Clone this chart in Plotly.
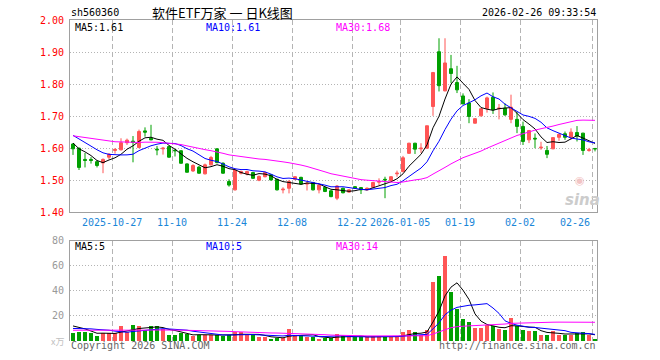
import plotly.graph_objects as go
import pandas as pd

# ---------------- data ----------------
open_ = [1.613, 1.600, 1.565, 1.565, 1.558, 1.554, 1.572, 1.593, 1.595, 1.617,
         1.622, 1.602, 1.654, 1.631, 1.597, 1.598, 1.605, 1.594, 1.592, 1.551,
         1.529, 1.541, 1.520, 1.548, 1.598, 1.553, 1.496, 1.470, 1.522, 1.520,
         1.524, 1.500, 1.511, 1.517, 1.503, 1.470, 1.475, 1.503, 1.509, 1.488,
         1.493, 1.470, 1.478, 1.467, 1.444, 1.475, 1.463, 1.480, 1.477, 1.470,
         1.478, 1.494, 1.503, 1.499, 1.520, 1.527, 1.584, 1.6155, 1.598, 1.600,
         1.730, 1.901, 1.779, 1.848, 1.805, 1.763, 1.741, 1.678, 1.701, 1.724,
         1.759, 1.723, 1.725, 1.690, 1.690, 1.668, 1.626, 1.631, 1.601, 1.593,
         1.598, 1.634, 1.645, 1.634, 1.649, 1.647, 1.593, 1.599]
high = [1.616, 1.602, 1.585, 1.572, 1.562, 1.568, 1.585, 1.600, 1.631, 1.630,
        1.638, 1.658, 1.665, 1.673, 1.607, 1.604, 1.607, 1.596, 1.594, 1.553,
        1.550, 1.545, 1.552, 1.576, 1.600, 1.556, 1.503, 1.535, 1.530, 1.530,
        1.526, 1.515, 1.527, 1.519, 1.505, 1.478, 1.501, 1.513, 1.511, 1.496,
        1.495, 1.488, 1.480, 1.469, 1.485, 1.477, 1.472, 1.482, 1.479, 1.478,
        1.495, 1.506, 1.511, 1.513, 1.530, 1.576, 1.617, 1.617, 1.6155, 1.670,
        1.838, 1.943, 1.943, 1.891, 1.857, 1.771, 1.753, 1.694, 1.725, 1.761,
        1.774, 1.738, 1.740, 1.767, 1.714, 1.683, 1.657, 1.646, 1.620, 1.607,
        1.633, 1.646, 1.652, 1.662, 1.669, 1.648, 1.601, 1.601]
low = [1.579, 1.532, 1.540, 1.552, 1.540, 1.522, 1.565, 1.583, 1.593, 1.610,
       1.556, 1.600, 1.636, 1.625, 1.578, 1.580, 1.570, 1.574, 1.552, 1.524,
       1.526, 1.520, 1.518, 1.546, 1.553, 1.520, 1.480, 1.468, 1.518, 1.515,
       1.504, 1.497, 1.509, 1.499, 1.468, 1.459, 1.459, 1.500, 1.486, 1.468,
       1.468, 1.459, 1.463, 1.447, 1.438, 1.459, 1.461, 1.473, 1.457, 1.468,
       1.476, 1.485, 1.444, 1.497, 1.511, 1.525, 1.582, 1.582, 1.585, 1.598,
       1.701, 1.777, 1.777, 1.803, 1.772, 1.738, 1.678, 1.677, 1.699, 1.711,
       1.707, 1.690, 1.701, 1.678, 1.647, 1.610, 1.616, 1.600, 1.595, 1.569,
       1.597, 1.623, 1.626, 1.626, 1.621, 1.579, 1.589, 1.590]
close = [1.598, 1.540, 1.562, 1.562, 1.546, 1.565, 1.581, 1.596, 1.617, 1.625,
         1.618, 1.652, 1.650, 1.626, 1.595, 1.600, 1.572, 1.592, 1.553, 1.525,
         1.546, 1.522, 1.548, 1.571, 1.555, 1.522, 1.485, 1.532, 1.527, 1.527,
         1.506, 1.512, 1.524, 1.501, 1.470, 1.472, 1.496, 1.511, 1.488, 1.490,
         1.470, 1.485, 1.465, 1.449, 1.482, 1.461, 1.470, 1.475, 1.470, 1.475,
         1.493, 1.496, 1.501, 1.511, 1.522, 1.570, 1.6155, 1.597, 1.600, 1.670,
         1.836, 1.795, 1.866, 1.833, 1.782, 1.738, 1.699, 1.692, 1.723, 1.757,
         1.720, 1.725, 1.704, 1.728, 1.668, 1.621, 1.655, 1.629, 1.603, 1.581,
         1.633, 1.643, 1.634, 1.650, 1.638, 1.593, 1.595, 1.598]
volume = [6.4, 7.2, 7.2, 6.4, 3.7, 6.7, 6.7, 6.7, 11.7, 7.2,
          12.5, 11.7, 8.6, 11.7, 11.7, 9.8, 4.4, 4.4, 6.4, 5.3,
          4.0, 5.1, 5.1, 5.1, 4.4, 3.7, 4.4, 7.2, 7.2, 4.4,
          4.4, 3.1, 3.1, 1.8, 2.3, 2.3, 9.8, 4.4, 5.1, 3.1,
          3.1, 1.8, 2.3, 2.3, 5.9, 3.7, 3.1, 3.1, 3.7, 3.1,
          3.7, 3.7, 3.1, 3.1, 3.7, 7.2, 8.6, 7.2, 4.4, 8.6,
          47.0, 52.0, 68.0, 39.2, 25.9, 17.4, 15.2, 10.4, 10.4, 12.5,
          12.0, 9.4, 8.6, 18.4, 12.0, 8.6, 7.8, 7.8, 5.0, 5.0,
          7.8, 5.0, 5.0, 5.0, 6.5, 7.0, 5.0, 1.3]
# closes / volumes of the 29 sessions before the window (only seen through the MA lines)
prev_close = [1.62, 1.63, 1.64, 1.66, 1.67, 1.65, 1.64, 1.63, 1.65, 1.66, 1.64, 1.62,
              1.61, 1.62, 1.64, 1.63, 1.62, 1.64, 1.65, 1.64,
              1.66, 1.67, 1.67, 1.66, 1.66,
              1.63, 1.61, 1.62, 1.623]
prev_volume = [8, 7, 9, 8, 7, 8, 9, 7, 8, 8, 7, 9, 8, 8, 7, 8, 9, 8, 7, 8,
               7, 9, 8, 8, 8, 12, 14, 15, 12.6]

tick_idx = [7, 17, 27, 37, 47, 55, 65, 75, 87]
tick_labels = ["2025-10-27", "11-10", "11-24", "12-08", "12-22",
               "2026-01-05", "01-19", "02-02", "02-26"]
price_ticks = [1.40, 1.50, 1.60, 1.70, 1.80, 1.90, 2.00]
vol_ticks = [20, 40, 60, 80]

stock_code = "sh560360"
title_text = "软件ETF万家 一 日K线图"
stamp_text = "2026-02-26 09:33:54"
price_ma_labels = ["MA5:1.61", "MA10:1.61", "MA30:1.68"]
vol_ma_labels = ["MA5:5", "MA10:5", "MA30:14"]

n = len(close)
assert len(open_) == n and len(high) == n and len(low) == n and len(volume) == n

x = list(range(n))
pc = pd.Series(prev_close + close)
pv = pd.Series(prev_volume + volume)
k = len(prev_close)
ma_close = {w: pc.rolling(w).mean().iloc[k:].tolist() for w in (5, 10, 30)}
ma_vol = {w: pv.rolling(w).mean().iloc[k:].tolist() for w in (5, 10, 30)}

RED = "#ff5555"
GREEN = "#00a000"
MA_COL = {5: "#000000", 10: "#0000ff", 30: "#ff00ff"}
FRAME = "#a0a0a0"
GRID = "#b4b4b4"
MONO = "DejaVu Sans Mono"

# ---------------- layout geometry ----------------
W, H = 660, 360
L, R, T, B = 70, 63, 20, 19
PW, PH = W - L - R, H - T - B


def px(v):
    return (v - L) / PW


def py(v):
    return (H - B - v) / PH


fig = go.Figure()

fig.add_trace(go.Candlestick(
    x=x, open=open_, high=high, low=low, close=close,
    increasing=dict(line=dict(color=RED, width=1), fillcolor=RED),
    decreasing=dict(line=dict(color=GREEN, width=1), fillcolor=GREEN),
    whiskerwidth=0, hoverinfo="skip", xaxis="x", yaxis="y"))

for w in (5, 10, 30):
    fig.add_trace(go.Scatter(x=x, y=ma_close[w], mode="lines",
                             line=dict(color=MA_COL[w], width=1),
                             hoverinfo="skip", xaxis="x", yaxis="y"))

bar_cols = [RED if c >= o else GREEN for o, c in zip(open_, close)]
fig.add_trace(go.Bar(x=x, y=volume, marker=dict(color=bar_cols, line=dict(width=0)),
                     width=0.78, hoverinfo="skip", xaxis="x2", yaxis="y2"))
for w in (5, 10, 30):
    fig.add_trace(go.Scatter(x=x, y=ma_vol[w], mode="lines",
                             line=dict(color=MA_COL[w], width=1),
                             hoverinfo="skip", xaxis="x2", yaxis="y2"))

xr = [-0.5, -0.5 + PW / 6.0]
grid_x = [t - 0.5 for t in tick_idx]

common_x = dict(range=xr, tickmode="array", tickvals=grid_x, showticklabels=False,
                ticks="", showgrid=True, gridcolor=GRID, griddash="5px,3px",
                gridwidth=1, zeroline=False, fixedrange=True)

fig.update_layout(
    width=W, height=H,
    margin=dict(l=L, r=R, t=T, b=B, pad=0),
    paper_bgcolor="white", plot_bgcolor="white",
    showlegend=False, bargap=0,
    xaxis=dict(**common_x, anchor="y", showline=True, mirror=True,
               linecolor=FRAME, linewidth=1, rangeslider=dict(visible=False)),
    yaxis=dict(domain=[py(212.3), 1.0], range=[1.40, 2.00], tickmode="array",
               tickvals=price_ticks, ticktext=[f"{v:.2f}" for v in price_ticks],
               tickfont=dict(family=MONO, size=10, color="#ff0000"),
               ticks="", ticklabelstandoff=3,
               showgrid=True, gridcolor=GRID, griddash="1px,2px", gridwidth=1,
               zeroline=False, showline=True, mirror=True, linecolor=FRAME,
               linewidth=1, fixedrange=True),
    xaxis2=dict(**common_x, anchor="y2", side="top", showline=True,
                linecolor=FRAME, linewidth=1),
    yaxis2=dict(domain=[0.0, py(240.7)], range=[0, 80], tickmode="array",
                tickvals=vol_ticks, ticktext=[str(v) for v in vol_ticks],
                tickfont=dict(family=MONO, size=10, color="#999999"),
                ticks="", ticklabelstandoff=3,
                showgrid=True, gridcolor=GRID, griddash="1px,2px", gridwidth=1,
                zeroline=False, showline=True, mirror=True, linecolor=FRAME,
                linewidth=1, fixedrange=True),
)

ann = []


def text(xv, yv, s, color="#000000", size=10, family=MONO, xanchor="left",
         xref="paper", **kw):
    ann.append(dict(x=xv, y=yv, xref=xref, yref="paper", text=s, showarrow=False,
                    xanchor=xanchor, yanchor="middle",
                    font=dict(family=family, size=size, color=color), **kw))


# header
text(px(69), py(12), stock_code)
text(px(222.5), py(12), title_text, size=13, family="Noto Sans CJK SC",
     xanchor="center")
text(px(598), py(12), stamp_text, xanchor="right")

# MA legends
ma_x = [73, 204, 333.5]
for lab, xx, w in zip(price_ma_labels, ma_x, (5, 10, 30)):
    text(px(xx), py(27), lab, color=MA_COL[w])
for lab, xx, w in zip(vol_ma_labels, ma_x, (5, 10, 30)):
    text(px(xx), py(246.5), lab, color=MA_COL[w])

# date labels
for t, lab in zip(tick_idx, tick_labels):
    if t == tick_idx[-1]:
        text(t - 0.5, py(222), lab, color="#1a86d8", xanchor="right", xref="x")
    else:
        text(t - 0.5, py(222), lab, color="#1a86d8", xanchor="center", xref="x")

# volume unit and footer
text(px(57), py(341), "x万", color="#c0c0c0", size=9,
     family="Noto Sans CJK SC", xanchor="center")
text(px(69), py(346), "Copyright 2026 SINA.COM", color="#666666")
text(px(598), py(346), "http://finance.sina.com.cn", color="#666666",
     xanchor="right")

# sina watermark
text(px(580), py(181), "◉", color="#f2c4c4", size=11, family="DejaVu Sans",
     xanchor="center")
text(px(582), py(200), "<b><i>sina</i></b>", color="#cccccc", size=15,
     family="DejaVu Sans", xanchor="center")

fig.update_layout(annotations=ann)

fig.write_html("out.html", include_plotlyjs=True, full_html=True,
               config=dict(displayModeBar=False, staticPlot=True))
